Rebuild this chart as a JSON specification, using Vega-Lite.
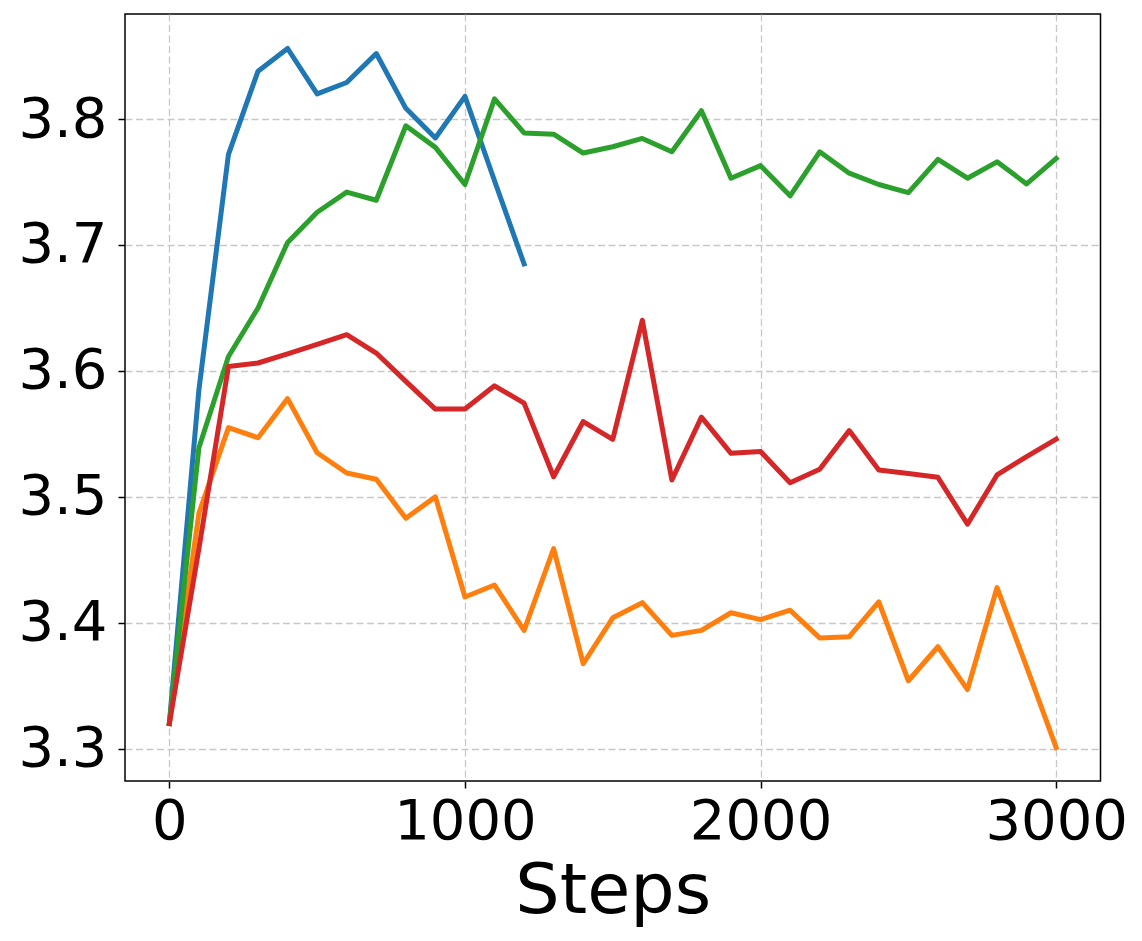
{
  "$schema": "https://vega.github.io/schema/vega-lite/v6.json",
  "width": 975.5,
  "height": 767,
  "autosize": {"type": "none"},
  "padding": {"left": 125, "top": 14, "right": 41.5, "bottom": 160},
  "background": "white",
  "config": {
    "view": {"stroke": "black", "strokeWidth": 1.5},
    "font": "DejaVu Sans",
    "axis": {
      "labelFont": "DejaVu Sans",
      "titleFont": "DejaVu Sans",
      "labelColor": "black",
      "titleColor": "black",
      "tickColor": "black",
      "tickWidth": 1.5,
      "tickSize": 7,
      "domain": false,
      "grid": true,
      "gridColor": "#c8c8c8",
      "gridWidth": 1.3,
      "gridDash": [7, 3.5],
      "labelFontSize": 56,
      "titleFontSize": 70,
      "titleFontWeight": "normal"
    }
  },
  "data": {
    "values": [
      {"step": 0, "value": 3.320, "series": "A"},
      {"step": 100, "value": 3.585, "series": "A"},
      {"step": 200, "value": 3.772, "series": "A"},
      {"step": 300, "value": 3.838, "series": "A"},
      {"step": 400, "value": 3.856, "series": "A"},
      {"step": 500, "value": 3.820, "series": "A"},
      {"step": 600, "value": 3.829, "series": "A"},
      {"step": 700, "value": 3.852, "series": "A"},
      {"step": 800, "value": 3.8085, "series": "A"},
      {"step": 900, "value": 3.785, "series": "A"},
      {"step": 1000, "value": 3.818, "series": "A"},
      {"step": 1100, "value": 3.751, "series": "A"},
      {"step": 1200, "value": 3.685, "series": "A"},

      {"step": 0, "value": 3.320, "series": "B"},
      {"step": 100, "value": 3.487, "series": "B"},
      {"step": 200, "value": 3.555, "series": "B"},
      {"step": 300, "value": 3.547, "series": "B"},
      {"step": 400, "value": 3.578, "series": "B"},
      {"step": 500, "value": 3.535, "series": "B"},
      {"step": 600, "value": 3.519, "series": "B"},
      {"step": 700, "value": 3.514, "series": "B"},
      {"step": 800, "value": 3.483, "series": "B"},
      {"step": 900, "value": 3.500, "series": "B"},
      {"step": 1000, "value": 3.4205, "series": "B"},
      {"step": 1100, "value": 3.430, "series": "B"},
      {"step": 1200, "value": 3.394, "series": "B"},
      {"step": 1300, "value": 3.459, "series": "B"},
      {"step": 1400, "value": 3.3675, "series": "B"},
      {"step": 1500, "value": 3.404, "series": "B"},
      {"step": 1600, "value": 3.416, "series": "B"},
      {"step": 1700, "value": 3.390, "series": "B"},
      {"step": 1800, "value": 3.394, "series": "B"},
      {"step": 1900, "value": 3.408, "series": "B"},
      {"step": 2000, "value": 3.4025, "series": "B"},
      {"step": 2100, "value": 3.410, "series": "B"},
      {"step": 2200, "value": 3.388, "series": "B"},
      {"step": 2300, "value": 3.389, "series": "B"},
      {"step": 2400, "value": 3.4166, "series": "B"},
      {"step": 2500, "value": 3.354, "series": "B"},
      {"step": 2600, "value": 3.381, "series": "B"},
      {"step": 2700, "value": 3.347, "series": "B"},
      {"step": 2800, "value": 3.428, "series": "B"},
      {"step": 2900, "value": 3.365, "series": "B"},
      {"step": 3000, "value": 3.301, "series": "B"},

      {"step": 0, "value": 3.320, "series": "C"},
      {"step": 100, "value": 3.539, "series": "C"},
      {"step": 200, "value": 3.6115, "series": "C"},
      {"step": 300, "value": 3.650, "series": "C"},
      {"step": 400, "value": 3.702, "series": "C"},
      {"step": 500, "value": 3.726, "series": "C"},
      {"step": 600, "value": 3.742, "series": "C"},
      {"step": 700, "value": 3.7355, "series": "C"},
      {"step": 800, "value": 3.7947, "series": "C"},
      {"step": 900, "value": 3.7775, "series": "C"},
      {"step": 1000, "value": 3.748, "series": "C"},
      {"step": 1100, "value": 3.816, "series": "C"},
      {"step": 1200, "value": 3.789, "series": "C"},
      {"step": 1300, "value": 3.788, "series": "C"},
      {"step": 1400, "value": 3.773, "series": "C"},
      {"step": 1500, "value": 3.778, "series": "C"},
      {"step": 1600, "value": 3.7846, "series": "C"},
      {"step": 1700, "value": 3.774, "series": "C"},
      {"step": 1800, "value": 3.8066, "series": "C"},
      {"step": 1900, "value": 3.753, "series": "C"},
      {"step": 2000, "value": 3.763, "series": "C"},
      {"step": 2100, "value": 3.739, "series": "C"},
      {"step": 2200, "value": 3.774, "series": "C"},
      {"step": 2300, "value": 3.757, "series": "C"},
      {"step": 2400, "value": 3.748, "series": "C"},
      {"step": 2500, "value": 3.7416, "series": "C"},
      {"step": 2600, "value": 3.768, "series": "C"},
      {"step": 2700, "value": 3.753, "series": "C"},
      {"step": 2800, "value": 3.766, "series": "C"},
      {"step": 2900, "value": 3.7485, "series": "C"},
      {"step": 3000, "value": 3.7687, "series": "C"},

      {"step": 0, "value": 3.320, "series": "D"},
      {"step": 100, "value": 3.459, "series": "D"},
      {"step": 200, "value": 3.6036, "series": "D"},
      {"step": 300, "value": 3.6063, "series": "D"},
      {"step": 400, "value": 3.6135, "series": "D"},
      {"step": 500, "value": 3.621, "series": "D"},
      {"step": 600, "value": 3.6288, "series": "D"},
      {"step": 700, "value": 3.6142, "series": "D"},
      {"step": 800, "value": 3.5917, "series": "D"},
      {"step": 900, "value": 3.5697, "series": "D"},
      {"step": 1000, "value": 3.5697, "series": "D"},
      {"step": 1100, "value": 3.5882, "series": "D"},
      {"step": 1200, "value": 3.5744, "series": "D"},
      {"step": 1300, "value": 3.516, "series": "D"},
      {"step": 1400, "value": 3.5598, "series": "D"},
      {"step": 1500, "value": 3.5457, "series": "D"},
      {"step": 1600, "value": 3.6402, "series": "D"},
      {"step": 1700, "value": 3.5134, "series": "D"},
      {"step": 1800, "value": 3.5633, "series": "D"},
      {"step": 1900, "value": 3.5346, "series": "D"},
      {"step": 2000, "value": 3.536, "series": "D"},
      {"step": 2100, "value": 3.5112, "series": "D"},
      {"step": 2200, "value": 3.5219, "series": "D"},
      {"step": 2300, "value": 3.5526, "series": "D"},
      {"step": 2400, "value": 3.5213, "series": "D"},
      {"step": 2500, "value": 3.5185, "series": "D"},
      {"step": 2600, "value": 3.5155, "series": "D"},
      {"step": 2700, "value": 3.4783, "series": "D"},
      {"step": 2800, "value": 3.5174, "series": "D"},
      {"step": 2900, "value": 3.532, "series": "D"},
      {"step": 3000, "value": 3.5458, "series": "D"}
    ]
  },
  "mark": {"type": "line", "strokeWidth": 5, "strokeJoin": "round", "strokeCap": "square", "clip": true},
  "encoding": {
    "x": {
      "field": "step",
      "type": "quantitative",
      "scale": {"domain": [-150, 3150], "nice": false, "zero": false},
      "axis": {
        "values": [0, 1000, 2000, 3000],
        "format": "d",
        "title": "Steps",
        "labelPadding": 6,
        "titleBaseline": "alphabetic",
        "titleY": 131
      }
    },
    "y": {
      "field": "value",
      "type": "quantitative",
      "scale": {"domain": [3.2744, 3.8834], "nice": false, "zero": false},
      "axis": {
        "values": [3.3, 3.4, 3.5, 3.6, 3.7, 3.8],
        "format": ".1f",
        "title": null,
        "labelPadding": 11
      }
    },
    "color": {
      "field": "series",
      "type": "nominal",
      "scale": {"domain": ["A", "B", "C", "D"], "range": ["#1f77b4", "#ff7f0e", "#2ca02c", "#d62728"]},
      "legend": null
    }
  }
}
